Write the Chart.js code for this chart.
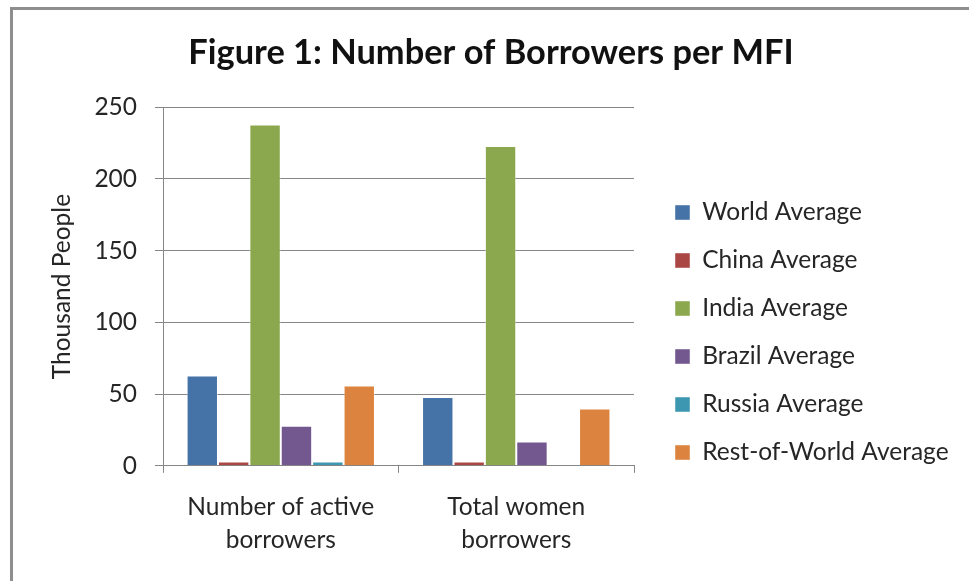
<!DOCTYPE html>
<html>
<head>
<meta charset="utf-8">
<script src="https://cdn.jsdelivr.net/npm/chart.js@4/dist/chart.umd.min.js"></script>
<style>
  html, body { margin: 0; padding: 0; background: #fff; }
  #wrap { position: relative; width: 969px; height: 581px; overflow: hidden; }
  #frame { position: absolute; left: 10px; top: 7px; right: -10px; bottom: -10px;
           border-left: 3px solid #8e8e8e; border-top: 3px solid #8e8e8e; }
  #chart { position: absolute; left: 0; top: 0; }
</style>
</head>
<body>
<div id="wrap">
  <div id="frame"></div>
  <canvas id="chart" width="969" height="581"></canvas>
</div>
<script>
// Chart data
const categories = [['Number of active', 'borrowers'], ['Total women', 'borrowers']];
const seriesNames = ['World Average', 'China Average', 'India Average', 'Brazil Average', 'Russia Average', 'Rest-of-World Average'];
const worldAvg = [63, 48];
const chinaAvg = [3, 3];
const indiaAvg = [238, 223];
const brazilAvg = [28, 17];
const russiaAvg = [3, null];
const restAvg = [56, 40];
const yTicks = [0, 50, 100, 150, 200, 250];

const colors = ['#4572A7', '#AA4643', '#8BA84F', '#72588F', '#3E97B0', '#DC843F'];
const seriesValues = [worldAvg, chinaAvg, indiaAvg, brazilAvg, russiaAvg, restAvg];

const fontFamily = 'Lato, "Open Sans", sans-serif';

// Excel-like legend: fixed width, set away from the plot, centred lower down
const legendWidth = 335;
const legendShiftX = 17.5;
const legendShiftY = 35;
const legendShift = {
    id: 'legendShift',
    afterInit(chart) {
        const legend = chart.legend;
        const fit = legend.fit;
        legend.fit = function() {
            fit.call(this);
            this.width = legendWidth;
        };
        const draw = legend.draw;
        legend.draw = function() {
            const c = this.ctx;
            c.save();
            c.translate(legendShiftX, legendShiftY);
            draw.call(this);
            c.restore();
        };
    }
};

function makeChart() {
    const ctx = document.getElementById('chart').getContext('2d');
    return new Chart(ctx, {
        type: 'bar',
        data: {
            labels: categories,
            datasets: seriesNames.map((name, i) => ({
                label: name,
                data: seriesValues[i],
                backgroundColor: colors[i],
                borderColor: 'rgba(255,255,255,0.45)',
                borderWidth: 1,
                categoryPercentage: 0.8,
                barPercentage: 1.0
            }))
        },
        options: {
            responsive: false,
            animation: false,
            layout: {
                padding: { left: 13, right: 0, top: 20, bottom: 6 }
            },
            scales: {
                x: {
                    grid: {
                        display: true,
                        drawOnChartArea: false,
                        drawTicks: true,
                        tickLength: 7,
                        color: '#868686',
                        offset: true
                    },
                    border: { display: true, color: '#868686', width: 1 },
                    ticks: {
                        color: '#262626',
                        font: { family: fontFamily, size: 24.5, lineHeight: 1.35 },
                        padding: 18
                    }
                },
                y: {
                    min: 0,
                    max: 250,
                    afterBuildTicks: function(axis) {
                        axis.ticks = yTicks.map(v => ({ value: v }));
                    },
                    grid: {
                        color: '#868686',
                        tickLength: 8,
                        lineWidth: 1
                    },
                    border: { display: true, color: '#868686', width: 1 },
                    ticks: {
                        color: '#262626',
                        font: { family: fontFamily, size: 24.5 },
                        padding: 18
                    },
                    title: {
                        display: true,
                        text: 'Thousand People',
                        color: '#262626',
                        font: { family: fontFamily, size: 24.5 },
                        padding: { top: 34, bottom: 0 }
                    }
                }
            },
            plugins: {
                title: {
                    display: true,
                    text: 'Figure 1: Number of Borrowers per MFI',
                    color: '#111',
                    font: { family: fontFamily, size: 34.4, weight: 'bold' },
                    padding: { top: 12, bottom: 34 }
                },
                legend: {
                    position: 'right',
                    align: 'center',
                    labels: {
                        boxWidth: 15,
                        boxHeight: 15,
                        padding: 23.5,
                        color: '#262626',
                        font: { family: fontFamily, size: 24.5 }
                    }
                },
                tooltip: { enabled: false }
            }
        },
        plugins: [legendShift]
    });
}

Promise.all([
    document.fonts.load('24.5px Lato'),
    document.fonts.load('bold 34.4px Lato')
]).catch(() => null).then(makeChart);
</script>
</body>
</html>
